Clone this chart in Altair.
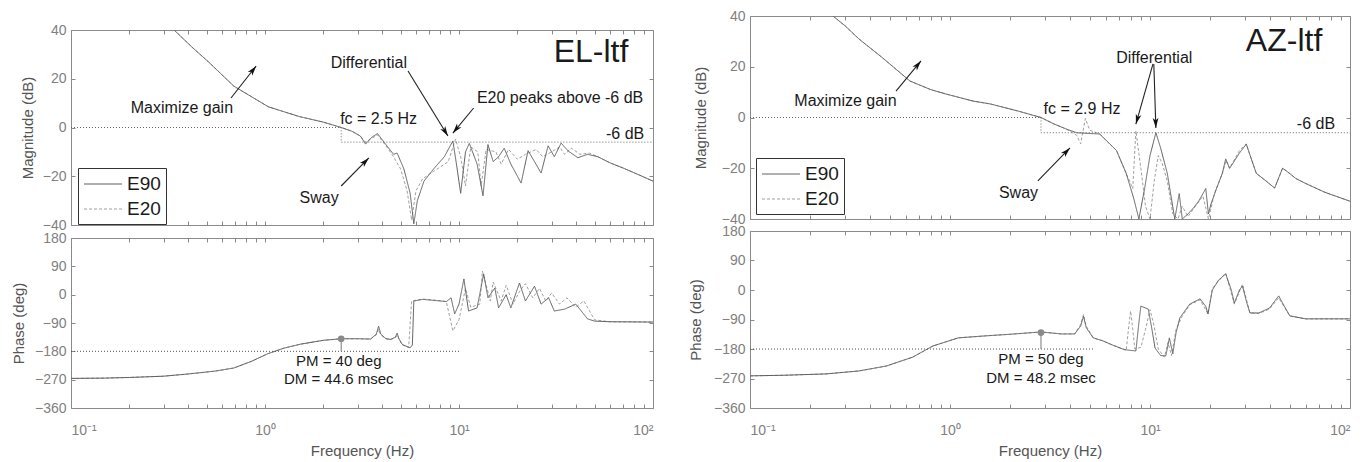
import math
import altair as alt
import pandas as pd

FONT = "Liberation Sans"
SERIES = ["E90", "E20"]
SERIES_COLORS = ["#606060", "#a0a0a0"]
SERIES_DASH = [[1, 0], [3, 2]]

FREQ_TICKS = [0.1, 0.2, 0.3, 0.4, 0.5, 0.6, 0.7, 0.8, 0.9,
              1, 2, 3, 4, 5, 6, 7, 8, 9,
              10, 20, 30, 40, 50, 60, 70, 80, 90, 100]
MAG_TICKS = [-40, -20, 0, 20, 40]
PHASE_TICKS = [-360, -270, -180, -90, 0, 90, 180]
DECADE_LABELS = [(0.1, "10⁻¹"), (1, "10⁰"), (10, "10¹"), (100, "10²")]

# ---------------- EL-ltf : magnitude ----------------
EL_MAG_E90_F = [0.34, 0.42, 0.51, 0.69, 1.04, 1.5, 2.0, 2.47, 2.8, 3.1,
                3.3, 3.55, 3.8, 4.2, 4.6, 4.8, 5.2, 5.6, 5.85, 6.1,
                6.6, 7.4, 8.4, 9.3, 9.7, 10.2, 10.8, 11.3, 12.4, 13.3,
                14.1, 15.0, 16.0, 17.1, 18.5, 20.9, 22.7, 24.5, 26.5, 28.8,
                31.0, 33.6, 36.5, 41.0, 46.0, 52.0, 60.0, 70.0, 85.0, 100.0]
EL_MAG_E90_DB = [40, 33, 27, 17, 8.5, 4.5, 2.2, 0, -1.5, -3.5,
                 -6.8, -4, -2.5, -7, -11, -10.5, -17, -27, -39.5, -30,
                 -22, -17, -12, -5.5, -15, -27, -10, -6.5, -15, -28,
                 -7, -14, -12, -8.5, -15, -22.8, -9.5, -14, -18.7, -7.5,
                 -12, -6.4, -9.6, -12.4, -11, -12, -14.5, -16.6, -19.5, -22]
EL_MAG_E20_F = [0.34, 0.42, 0.51, 0.69, 1.04, 1.5, 2.0, 2.47, 2.8, 3.1,
                3.3, 3.55, 3.8, 4.2, 4.6, 5.0, 5.4, 5.7, 6.0, 6.5,
                7.4, 8.8, 9.6, 10.2, 10.8, 11.5, 12.5, 13.0, 13.8, 15.5,
                16.5, 18.0, 20.0, 22.0, 25.0, 27.0, 30.0, 33.0, 35.0, 38.0,
                42.0, 47.0, 52.0, 60.0, 70.0, 85.0, 100.0]
EL_MAG_E20_DB = [40, 33, 27, 17, 8.5, 4.5, 2.2, 0, -1.5, -3.5,
                 -6, -4.5, -3, -7.5, -12, -17, -26, -38, -26, -21,
                 -18, -14, -4.8, -12, -24, -8, -10, -24, -9, -10,
                 -15, -9, -13, -11, -9, -12, -10, -8, -11, -8.5,
                 -11, -10.5, -12, -14.5, -16.6, -19.5, -22]

# ---------------- EL-ltf : phase ----------------
EL_PH_E90_F = [0.1, 0.15, 0.2, 0.3, 0.4, 0.55, 0.69, 0.85, 1.03, 1.25,
               1.53, 2.0, 2.47, 3.0, 3.5, 3.75, 3.85, 3.95, 4.2, 4.45,
               4.7, 4.8, 4.9, 5.1, 5.6, 5.75, 5.85, 6.5, 8.0, 8.6,
               9.1, 9.5, 10.0, 10.6, 11.2, 12.4, 13.4, 14.1, 15.3, 16.0,
               17.5, 18.5, 20.5, 22.0, 24.5, 26.5, 29.0, 31.0, 35.0, 40.0,
               46.0, 50.0, 60.0, 100.0]
EL_PH_E90_DEG = [-266, -265, -263, -259, -252, -243, -233, -212, -188, -170,
                 -157, -145, -140, -140, -141, -125, -100, -125, -140, -142,
                 -135, -122, -140, -158, -169, -160, -20, -15, -20, -22,
                 -10, -61, -30, 50, -52, -42, 66, -10, 21, -42,
                 0, -42, 37, -20, 27, -30, -10, -52, -46, -30,
                 -77, -84, -86, -87]
EL_PH_E20_F = [0.1, 0.15, 0.2, 0.3, 0.4, 0.55, 0.69, 0.85, 1.03, 1.25,
               1.53, 2.0, 2.47, 3.0, 3.5, 3.75, 3.85, 3.95, 4.2, 4.45,
               4.7, 4.8, 4.9, 5.1, 5.5, 5.7, 6.5, 8.0, 8.6, 9.3,
               10.0, 10.8, 11.5, 12.8, 13.2, 14.5, 15.0, 16.5, 17.5, 19.0,
               20.5, 22.0, 24.0, 26.0, 28.0, 30.0, 33.0, 36.0, 40.0, 44.0,
               50.0, 60.0, 100.0]
EL_PH_E20_DEG = [-266, -265, -263, -259, -252, -243, -233, -212, -188, -170,
                 -157, -145, -140, -140, -141, -128, -110, -128, -140, -142,
                 -137, -128, -140, -160, -168, -20, -14, -19, -22, -115,
                 -80, 20, -40, -30, 75, -20, 40, -20, 30, -30,
                 10, 35, -10, 20, -20, 5, -30, -10, -40, -20,
                 -80, -86, -87]

# ---------------- AZ-ltf : magnitude ----------------
AZ_MAG_E90_F = [0.26, 0.3, 0.35, 0.46, 0.63, 0.8, 0.95, 1.3, 1.6, 2.2,
                2.85, 3.3, 3.8, 4.3, 5.0, 5.6, 6.8, 7.6, 8.3, 8.8,
                9.4, 10.0, 10.7, 11.3, 12.2, 12.8, 13.3, 14.0, 14.5, 15.5,
                16.5, 17.5, 18.4, 19.0, 19.6, 20.2, 21.5, 23.0, 23.9, 25.0,
                26.0, 28.0, 30.3, 32.0, 34.0, 38.0, 42.0, 46.0, 48.0, 53.5,
                60.0, 75.0, 100.0]
AZ_MAG_E90_DB = [40, 36, 31, 23.5, 14.4, 11, 9.3, 6.5, 5.3, 2.5,
                 0, -2.5, -4.5, -6, -6.3, -6.5, -13, -22, -32, -40,
                 -28, -15, -6, -12, -22, -32, -40, -30, -40, -38,
                 -35.6, -33, -30, -28, -38, -34, -28, -22, -16.3, -20,
                 -18, -14, -10.5, -16, -22, -25, -27.8, -20, -21, -24,
                 -26, -29.5, -33]
AZ_MAG_E20_F = [0.26, 0.3, 0.35, 0.46, 0.63, 0.8, 0.95, 1.3, 1.6, 2.2,
                2.85, 3.3, 3.8, 4.3, 4.5, 4.75, 5.0, 5.6, 6.8, 7.6,
                8.2, 8.5, 9.0, 9.5, 10.0, 10.5, 11.0, 11.5, 12.2, 13.0,
                13.8, 14.5, 15.5, 16.5, 18.4, 19.6, 21.0, 23.0, 24.0, 25.0,
                28.0, 30.3, 32.0, 34.0, 38.0, 42.0, 46.0, 48.0, 53.5, 60.0,
                75.0, 100.0]
AZ_MAG_E20_DB = [40, 36, 31, 23.5, 14.4, 11, 9.3, 6.5, 5.3, 2.5,
                 0, -2.5, -4.5, -7, -10.4, -0.4, -5, -6.5, -13, -22,
                 -28, -5.3, -20, -35, -40, -25, -15, -18, -25, -38,
                 -40, -35, -39, -36, -31, -40, -30, -22, -17, -20,
                 -13, -10.4, -16, -22, -25, -27.8, -20, -21, -24, -26,
                 -29.5, -33]

# ---------------- AZ-ltf : phase ----------------
AZ_PH_E90_F = [0.1, 0.15, 0.24, 0.35, 0.48, 0.65, 0.82, 1.1, 1.5, 2.0,
               2.85, 3.6, 4.2, 4.5, 4.65, 4.8, 5.2, 5.8, 6.5, 7.3,
               7.7, 8.5, 8.8, 9.0, 9.5, 9.8, 10.2, 10.6, 11.3, 12.0,
               12.5, 13.0, 13.5, 14.1, 15.8, 17.8, 19.0, 19.5, 20.5, 22.0,
               23.9, 25.5, 26.4, 28.0, 29.0, 30.5, 31.6, 35.0, 39.6, 44.0,
               47.0, 50.0, 60.0, 100.0]
AZ_PH_E90_DEG = [-262, -260, -256, -247, -232, -205, -171, -146, -140, -135,
                 -128, -134, -134, -110, -80, -115, -146, -155, -168, -180,
                 -183, -186, -100, -49, -55, -58, -116, -177, -200, -201,
                 -146, -195, -130, -85, -43, -27, -50, -73, 0, 30,
                 49, 0, -40, 0, 12, -40, -70, -70, -55, -18,
                 -50, -79, -88, -88]
AZ_PH_E20_F = [0.1, 0.15, 0.24, 0.35, 0.48, 0.65, 0.82, 1.1, 1.5, 2.0,
               2.85, 3.6, 4.2, 4.5, 4.65, 4.8, 5.2, 5.8, 6.5, 7.3,
               7.6, 7.8, 8.0, 8.2, 8.4, 9.0, 9.5, 10.0, 10.4, 11.0,
               11.8, 12.3, 12.8, 13.5, 14.5, 15.8, 17.8, 19.5, 20.5, 23.9,
               26.4, 29.0, 31.6, 35.0, 39.6, 44.0, 50.0, 60.0, 100.0]
AZ_PH_E20_DEG = [-262, -260, -256, -247, -232, -205, -171, -146, -140, -135,
                 -128, -134, -134, -105, -75, -110, -146, -155, -168, -180,
                 -185, -120, -64, -120, -180, -175, -120, -60, -100, -180,
                 -205, -160, -200, -120, -80, -45, -30, -73, 5, 52,
                 -43, 18, -70, -72, -58, -24, -79, -88, -88]

# ---------------- crossover / margins ----------------
EL_FC = 2.47
AZ_FC = 2.85
GAIN_REF_DB = -6
PHASE_REF_DEG = -180
EL_PM_POINT = (2.47, -140)
AZ_PM_POINT = (2.85, -130)
EL_PHASE_REF_END = 10.0
AZ_PHASE_REF_END = 5.2

# ---------------- annotations (text, freq, value) ----------------
EL_MAG_TEXT = [("Maximize gain", 0.373, 8), ("Differential", 3.43, 26.5),
               ("fc = 2.5 Hz", 3.85, 3.5), ("E20 peaks above -6 dB", 33.2, 12.1),
               ("-6 dB", 71.8, -2.7), ("Sway", 1.9, -29)]
EL_TITLE = ("EL-ltf", 47.9, 31)
EL_ARROWS = [(0.668, 12.1, 0.90, 25.2), (2.47, -24, 3.43, -12.5),
             (5.46, 23.2, 8.77, -3.5), (11.9, 8, 9.3, -2.3)]
EL_PH_TEXT = [("PM = 40 deg", 2.4, -210.7), ("DM = 44.6 msec", 2.4, -268)]

AZ_MAG_TEXT = [("Maximize gain", 0.30, 6.5), ("Differential", 10.5, 23.5),
               ("fc = 2.9 Hz", 4.57, 3.4), ("-6 dB", 67.6, -2.6),
               ("Sway", 2.2, -29.7)]
AZ_TITLE = ("AZ-ltf", 46.8, 30.1)
AZ_ARROWS = [(0.537, 10.4, 0.716, 22.3), (2.75, -25, 3.98, -12),
             (10.35, 21.1, 8.5, -2.6), (10.45, 21.1, 10.7, -4.1)]
AZ_PH_TEXT = [("PM = 50 deg", 2.85, -210.5), ("DM = 48.2 msec", 2.85, -268.5)]

# ---------------- styling ----------------
LABEL_C = "#808080"
TITLE_C = "#555555"
TICK_C = "#8a8a8a"
TEXT_C = "#1a1a1a"
ARROW_HEAD = "M0,0 L0.55,1.9 L0,1.4 L-0.55,1.9 Z"
LEGEND_LINE = "M-1,0 L2.8,0"

label_expr = " : ".join(
    [f"datum.value == {v} ? '{t}'" for v, t in DECADE_LABELS]) + " : ''"

XSCALE = dict(type="log", domain=[0.1, 100], nice=False)


def series_df(pairs):
    rows = []
    for name, fs, vs in pairs:
        for i, (f, v) in enumerate(zip(fs, vs)):
            rows.append({"series": name, "f": f, "v": v, "i": i})
    return pd.DataFrame(rows)


def text_df(items):
    return pd.DataFrame([{"t": t, "f": f, "v": v} for t, f, v in items])


def arrow_df(arrows, W, H, lo, hi):
    rows = []
    for f1, v1, f2, v2 in arrows:
        x1 = W * (math.log10(f1) + 1) / 3.0
        x2 = W * (math.log10(f2) + 1) / 3.0
        y1 = H * (hi - v1) / (hi - lo)
        y2 = H * (hi - v2) / (hi - lo)
        ang = math.degrees(math.atan2(x2 - x1, -(y2 - y1))) % 360
        rows.append({"f": f1, "v": v1, "f2": f2, "v2": v2, "ang": ang})
    return pd.DataFrame(rows)


def x_axis(show_labels):
    if show_labels:
        return alt.Axis(values=FREQ_TICKS, labelExpr=label_expr, labelOverlap=False,
                        title="Frequency (Hz)", domain=False, grid=False,
                        tickSize=4, offset=-4, labelPadding=15, titlePadding=6,
                        labelFontSize=14, titleFontSize=15)
    return alt.Axis(values=FREQ_TICKS, labels=False, title=None, domain=False,
                    grid=False, tickSize=4, offset=-4)


def y_axis(ticks, title, tpad):
    return alt.Axis(values=ticks, title=title, domain=False, grid=False, tickSize=4,
                    offset=-4, labelPadding=5, minExtent=32, maxExtent=32,
                    titlePadding=tpad, labelFontSize=14, titleFontSize=15)


def series_encodings(legend):
    return dict(
        color=alt.Color("series:N", scale=alt.Scale(domain=SERIES, range=SERIES_COLORS),
                        legend=legend),
        strokeDash=alt.StrokeDash("series:N", scale=alt.Scale(domain=SERIES, range=SERIES_DASH),
                                  legend=legend),
    )


def box_layer(lo, hi, yticks):
    """Inward ticks on the top and right edges (MATLAB 'box on')."""
    return alt.Chart(pd.DataFrame({"f": [1.0], "v": [lo]})).mark_point(opacity=0).encode(
        x=alt.X("f:Q", scale=alt.Scale(**XSCALE),
                axis=alt.Axis(orient="top", values=FREQ_TICKS, labels=False, title=None,
                              domain=False, grid=False, tickSize=4, offset=-4)),
        y=alt.Y("v:Q", scale=alt.Scale(domain=[lo, hi], nice=False, zero=False),
                axis=alt.Axis(orient="right", values=yticks, labels=False, title=None,
                              domain=False, grid=False, tickSize=4, offset=-4)))


def mag_chart(W, H, curves, fc, arrows, texts, big, legend_xy, tpad):
    ysc = alt.Scale(domain=[-40, 40], nice=False, zero=False)
    X = alt.X("f:Q", scale=alt.Scale(**XSCALE), axis=x_axis(False))
    Y = alt.Y("v:Q", scale=ysc, axis=y_axis(MAG_TICKS, "Magnitude (dB)", tpad))
    Xn = alt.X("f:Q", scale=alt.Scale(**XSCALE), axis=None)
    Yn = alt.Y("v:Q", scale=ysc, axis=None)
    leg = alt.Legend(title=None, orient="none", legendX=legend_xy[0], legendY=legend_xy[1],
                     direction="vertical", symbolType=LEGEND_LINE, symbolSize=400,
                     symbolStrokeWidth=1.2, labelFont=FONT, labelFontSize=19,
                     labelColor=TEXT_C, padding=5, rowPadding=4, labelOffset=22,
                     strokeColor="#333333", fillColor="white", cornerRadius=0)
    lines = alt.Chart(series_df(curves)).mark_line(strokeWidth=1, clip=True).encode(
        x=X, y=Y, order="i:Q", **series_encodings(leg))
    ref = alt.Chart(pd.DataFrame({"f": [0.1, fc, fc, 100],
                                  "v": [0, 0, GAIN_REF_DB, GAIN_REF_DB],
                                  "i": [0, 1, 2, 3]})).mark_line(
        color="#666666", strokeWidth=1, strokeDash=[1, 2]).encode(x=Xn, y=Yn, order="i:Q")
    adf = arrow_df(arrows, W, H, -40, 40)
    rules = alt.Chart(adf).mark_rule(color="#222222", strokeWidth=1.1).encode(
        x=Xn, y=Yn, x2="f2:Q", y2="v2:Q")
    heads = alt.Chart(adf).mark_point(shape=ARROW_HEAD, filled=True, size=110, opacity=1,
                                      color="#111111", strokeWidth=0).encode(
        x=alt.X("f2:Q", scale=alt.Scale(**XSCALE), axis=None),
        y=alt.Y("v2:Q", scale=ysc, axis=None),
        angle=alt.Angle("ang:Q", scale=None))
    txt = alt.Chart(text_df(texts)).mark_text(font=FONT, fontSize=16, color=TEXT_C,
                                              align="center", baseline="middle").encode(
        x=Xn, y=Yn, text="t:N")
    bigt = alt.Chart(text_df([big])).mark_text(font=FONT, fontSize=32, color=TEXT_C,
                                               align="center", baseline="middle").encode(
        x=Xn, y=Yn, text="t:N")
    return alt.layer(lines, ref, rules, heads, txt, bigt, box_layer(-40, 40, MAG_TICKS)).resolve_axis(
        x="independent", y="independent").properties(width=W, height=H)


def phase_chart(W, H, curves, ref_end, pm, texts, tpad):
    ysc = alt.Scale(domain=[-360, 180], nice=False, zero=False)
    X = alt.X("f:Q", scale=alt.Scale(**XSCALE), axis=x_axis(True))
    Y = alt.Y("v:Q", scale=ysc, axis=y_axis(PHASE_TICKS, "Phase (deg)", tpad))
    Xn = alt.X("f:Q", scale=alt.Scale(**XSCALE), axis=None)
    Yn = alt.Y("v:Q", scale=ysc, axis=None)
    lines = alt.Chart(series_df(curves)).mark_line(strokeWidth=1, clip=True).encode(
        x=X, y=Y, order="i:Q", **series_encodings(None))
    ref = alt.Chart(pd.DataFrame({"f": [0.1, ref_end],
                                  "v": [PHASE_REF_DEG, PHASE_REF_DEG]})).mark_line(
        color="#555555", strokeWidth=1, strokeDash=[1, 2]).encode(x=Xn, y=Yn)
    stem = alt.Chart(pd.DataFrame({"f": [pm[0]], "v": [pm[1]], "v2": [PHASE_REF_DEG]})).mark_rule(
        color="#777777", strokeWidth=1).encode(x=Xn, y=Yn, y2="v2:Q")
    dot = alt.Chart(pd.DataFrame({"f": [pm[0]], "v": [pm[1]]})).mark_point(
        shape="circle", filled=True, size=45, opacity=1, color="#8a8a8a").encode(x=Xn, y=Yn)
    txt = alt.Chart(text_df(texts)).mark_text(font=FONT, fontSize=15, color=TEXT_C,
                                              align="center", baseline="middle").encode(
        x=Xn, y=Yn, text="t:N")
    return alt.layer(lines, ref, stem, dot, txt, box_layer(-360, 180, PHASE_TICKS)).resolve_axis(
        x="independent", y="independent").properties(width=W, height=H)


# ---------------- panels ----------------
LW, LMH, LPH = 582, 195, 170
RW, RMH, RPH = 600, 203, 177

spacer = alt.Chart(pd.DataFrame({"f": [1.0]})).mark_point(opacity=0).encode(
    x=alt.X("f:Q", axis=None)).properties(width=LW, height=1,
                                          view=alt.ViewBackground(stroke="transparent"))

el_mag = mag_chart(LW, LMH,
                   [("E20", EL_MAG_E20_F, EL_MAG_E20_DB), ("E90", EL_MAG_E90_F, EL_MAG_E90_DB)],
                   EL_FC, EL_ARROWS, EL_MAG_TEXT, EL_TITLE, (7, 138), 8)
el_ph = phase_chart(LW, LPH,
                    [("E20", EL_PH_E20_F, EL_PH_E20_DEG), ("E90", EL_PH_E90_F, EL_PH_E90_DEG)],
                    EL_PHASE_REF_END, EL_PM_POINT, EL_PH_TEXT, 17)
az_mag = mag_chart(RW, RMH,
                   [("E20", AZ_MAG_E20_F, AZ_MAG_E20_DB), ("E90", AZ_MAG_E90_F, AZ_MAG_E90_DB)],
                   AZ_FC, AZ_ARROWS, AZ_MAG_TEXT, AZ_TITLE, (6, 142), 14)
az_ph = phase_chart(RW, RPH,
                    [("E20", AZ_PH_E20_F, AZ_PH_E20_DEG), ("E90", AZ_PH_E90_F, AZ_PH_E90_DEG)],
                    AZ_PHASE_REF_END, AZ_PM_POINT, AZ_PH_TEXT, 19)

left = alt.vconcat(spacer, el_mag, el_ph, spacing=13, bounds="flush").resolve_scale(
    color="independent", strokeDash="independent")
right = alt.vconcat(az_mag, az_ph, spacing=12, bounds="flush").resolve_scale(
    color="independent", strokeDash="independent")

chart = alt.hconcat(left, right, spacing=30).resolve_scale(
    color="independent", strokeDash="independent").properties(
    padding={"left": 10, "top": 8, "right": 0, "bottom": 0},
    background="white",
).configure_view(stroke="#8a8a8a", strokeWidth=1).configure_axis(
    labelFont=FONT, titleFont=FONT, labelColor=LABEL_C, titleColor=TITLE_C,
    tickColor=TICK_C, titleFontWeight="normal")

chart.save("out.html", embed_options={"renderer": "svg", "actions": False})
